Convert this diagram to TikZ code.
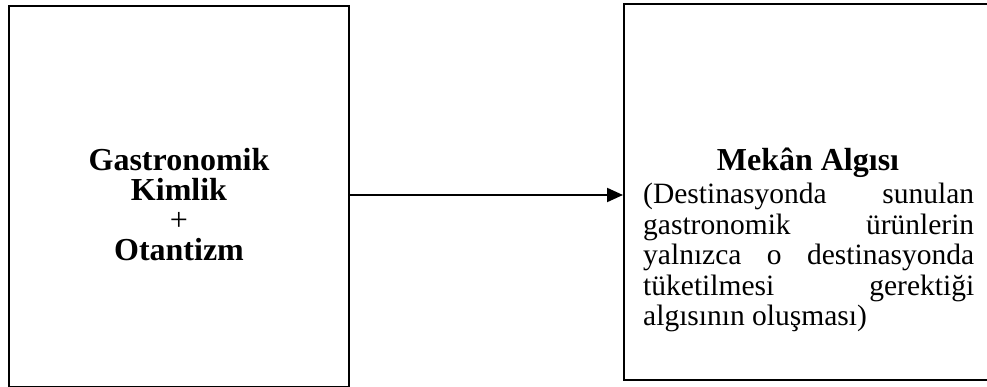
\documentclass[tikz,border=0pt]{standalone}
\usepackage{fontspec}
\setmainfont{Liberation Serif}
\usetikzlibrary{arrows.meta}
\begin{document}
\begin{tikzpicture}[x=1pt, y=1pt,
  box/.style={draw, line width=2pt, inner sep=0pt, anchor=north west},
  label/.style={inner sep=0pt},
  link/.style={line width=2pt, -{Triangle[length=16pt, width=14pt]}}]
  \useasboundingbox (0,0) rectangle (987,-387);

  % left box: identity + authenticity
  \node[box, minimum width=340pt, minimum height=381pt] (kimlik) at (8,-5) {};
  \node[label, align=center, font=\fontsize{32}{30}\selectfont\bfseries]
    (kimliktext) at (179,-205)
    {Gastronomik\\Kimlik\\{\mdseries +}\\Otantizm};

  % right box: perception of place
  \node[box, minimum width=366pt, minimum height=376pt] (mekan) at (623,-3) {};
  \node[label, font=\fontsize{32}{34}\selectfont\bfseries, anchor=base]
    (mekanbaslik) at (808,-171) {Mekân Algısı};
  \node[label, anchor=base west, font=\fontsize{29.5}{30.5}\selectfont]
    (mekantext) at (643,-204)
    {\parbox[t]{331pt}{%
      \makebox[331pt][s]{(Destinasyonda sunulan}\\
      \makebox[331pt][s]{gastronomik ürünlerin}\\
      \makebox[331pt][s]{yalnızca o destinasyonda}\\
      \makebox[331pt][s]{tüketilmesi gerektiği}\\
      algısının oluşması)}};

  % connector
  \draw[link] (kimlik.east |- 0,-195) -- (mekan.west |- 0,-195);
\end{tikzpicture}
\end{document}
